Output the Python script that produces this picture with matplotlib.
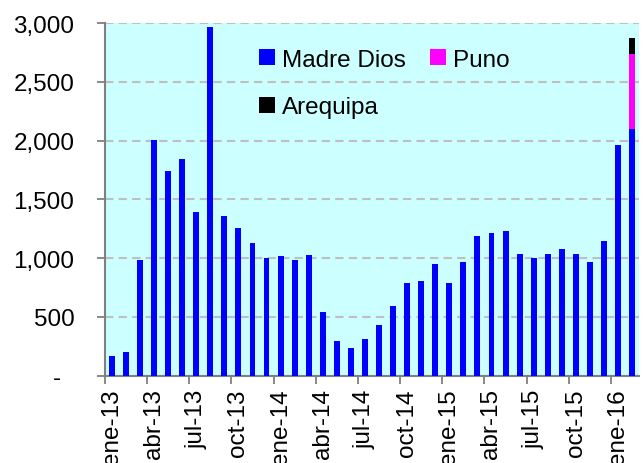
import matplotlib
matplotlib.use("Agg")
import matplotlib.pyplot as plt
import numpy as np
from matplotlib.ticker import FixedLocator, FuncFormatter

plt.rcParams["font.family"] = ["Liberation Sans", "DejaVu Sans"]

# meses ene-13 .. feb-16
months = ["ene", "feb", "mar", "abr", "may", "jun", "jul", "ago", "sep", "oct", "nov", "dic"]
labels = [f"{months[i % 12]}-{13 + i // 12}" for i in range(38)]

madre_dios = [170, 204, 987, 2004, 1746, 1843, 1389, 2965, 1355, 1256, 1128, 998,
              1015, 981, 1029, 541, 298, 232, 312, 428, 593, 788, 802, 950,
              788, 967, 1193, 1211, 1228, 1032, 1001, 1032, 1080, 1032, 967, 1145,
              1959, 2101]
puno = [0] * 37 + [635]
arequipa = [0] * 37 + [136]

BLUE = "#0000FF"
MAGENTA = "#FF00FF"
GRID = "#BFBFBF"
AXIS = "#808080"
FS = 17.5

fig = plt.figure(figsize=(6.43, 4.64), dpi=100)
ax = fig.add_axes([0.163, 0.188, 0.831, 0.760])
ax.set_facecolor("#CCFFFF")

x = np.arange(len(madre_dios))
md = np.array(madre_dios)
pu = np.array(puno)
ar = np.array(arequipa)
w = 0.42
ax.bar(x, md, width=w, color=BLUE, label="Madre Dios", zorder=3)
ax.bar(x, ar, width=w, bottom=md + pu, color="black", label="Arequipa", zorder=3)
ax.bar(x, pu, width=w, bottom=md, color=MAGENTA, label="Puno", zorder=3)

ax.set_xlim(-0.5, len(x) - 0.5)
ax.set_ylim(0, 3000)
ax.set_yticks(np.arange(0, 3001, 500))
ax.yaxis.set_major_formatter(FuncFormatter(lambda v, p: "-  " if v == 0 else f"{int(v):,}"))
ax.grid(axis="y", color=GRID, linestyle=(0, (4, 2.5)), linewidth=1.5, zorder=1)

# etiquetas cada 3 meses, marcas entre categorias
ax.set_xticks(x[::3])
ax.set_xticklabels(labels[::3], rotation=90)
ax.xaxis.set_minor_locator(FixedLocator(np.arange(-0.5, len(x), 3)))
ax.tick_params(axis="x", which="major", length=0, pad=9, labelsize=FS)
ax.tick_params(axis="x", which="minor", length=6, color=AXIS, width=1.3, direction="out")
ax.tick_params(axis="y", length=6, color=AXIS, width=1.3, pad=16, labelsize=FS)

for side in ("top", "right"):
    ax.spines[side].set_visible(False)
for side in ("left", "bottom"):
    ax.spines[side].set_color(AXIS)
    ax.spines[side].set_linewidth(1.5)

ax.legend(loc="upper left", bbox_to_anchor=(0.27, 0.955), ncol=2, frameon=False,
          fontsize=FS, handlelength=0.65, handleheight=0.65, handletextpad=0.3,
          columnspacing=1.0, labelspacing=1.05, borderaxespad=0)

fig.savefig("out.png", dpi=100)
